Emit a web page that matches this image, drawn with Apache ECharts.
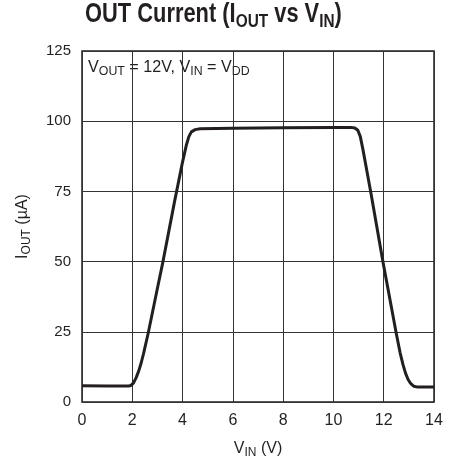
<!DOCTYPE html>
<html>
<head>
<meta charset="utf-8">
<script src="https://cdn.jsdelivr.net/npm/echarts@6/dist/echarts.min.js"></script>
<style>html,body{margin:0;padding:0;background:#fff}#c{width:453px;height:460px}</style>
</head>
<body>
<div id="c"></div>
<script>
var vin = [0, 1, 1.85, 1.95, 2.05, 2.15, 2.25, 2.35, 2.45, 2.63, 3.0, 3.22, 3.69, 4.0, 4.15, 4.25, 4.35, 4.5, 4.7, 6, 8, 10, 10.7, 10.85, 10.97, 11.07, 11.18, 11.5, 11.97, 12.5, 12.65, 12.77, 12.87, 12.97, 13.07, 13.2, 13.35, 14];
var iout = [5.8, 5.7, 5.7, 5.9, 6.8, 8.6, 10.9, 13.8, 17.3, 24.4, 40.5, 50.0, 71.8, 85.5, 91.5, 94.5, 96.2, 97.0, 97.3, 97.5, 97.7, 97.8, 97.8, 97.6, 96.8, 94.5, 89.6, 74, 49.9, 24.4, 17.6, 13.2, 10.2, 8.0, 6.6, 5.6, 5.3, 5.3];
var xTicks = [0, 2, 4, 6, 8, 10, 12, 14];
var yTicks = [0, 25, 50, 75, 100, 125];

var FONT = '"Liberation Sans", Arial, sans-serif';
var INK = '#231f20';
var chart = echarts.init(document.getElementById('c'), null, {renderer: 'canvas'});
var pts = vin.map(function (v, i) { return [v, iout[i]]; });
chart.setOption({
  animation: false,
  grid: {left: 82, right: 19, top: 51, bottom: 58, show: true, borderColor: INK, borderWidth: 1.5, backgroundColor: 'transparent', containLabel: false, outerBoundsMode: 'none'},
  xAxis: {
    type: 'value', min: 0, max: 14, interval: 2,
    axisLine: {show: false}, axisTick: {show: false},
    splitLine: {show: true, lineStyle: {color: '#333', width: 1}},
    axisLabel: {fontFamily: FONT, fontSize: 16, color: INK, margin: 11, formatter: function (v) { return xTicks.indexOf(v) >= 0 ? String(v) : ''; }},
    name: '{m|V}{s|IN}{m| (V)}', nameLocation: 'middle', nameGap: 37,
    nameTextStyle: {rich: {
      m: {fontFamily: FONT, fontSize: 16, color: INK, lineHeight: 20, verticalAlign: 'middle'},
      s: {fontFamily: FONT, fontSize: 12, color: INK, lineHeight: 20, verticalAlign: 'bottom'}
    }}
  },
  yAxis: {
    type: 'value', min: 0, max: 125, interval: 25,
    axisLine: {show: false}, axisTick: {show: false},
    splitLine: {show: true, lineStyle: {color: '#333', width: 1}},
    axisLabel: {fontFamily: FONT, fontSize: 15, color: INK, margin: 11, formatter: function (v) { return yTicks.indexOf(v) >= 0 ? String(v) : ''; }},
    name: '{m|I}{s|OUT}{m| (µA)}', nameLocation: 'middle', nameGap: 49,
    nameTextStyle: {rich: {
      m: {fontFamily: FONT, fontSize: 16, color: INK, lineHeight: 20, verticalAlign: 'middle'},
      s: {fontFamily: FONT, fontSize: 12, color: INK, lineHeight: 20, verticalAlign: 'bottom'}
    }}
  },
  graphic: [{
    type: 'text', x: 85, y: -1, scaleX: 0.81,
    style: {
      text: '{m|OUT Current (I}{s|OUT}{m| vs V}{s|IN}{m|)}',
      rich: {
        m: {fontFamily: FONT, fontWeight: 'bold', fontSize: 27, fill: INK, lineHeight: 32, verticalAlign: 'middle'},
        s: {fontFamily: FONT, fontWeight: 'bold', fontSize: 19, fill: INK, lineHeight: 32, verticalAlign: 'bottom'}
      }
    }
  }, {
    type: 'text', x: 88, y: 56, scaleX: 0.95,
    style: {
      text: '{m|V}{s|OUT}{m| = 12V, V}{s|IN}{m| = V}{s|DD}',
      rich: {
        m: {fontFamily: FONT, fontSize: 17, fill: INK, lineHeight: 22, verticalAlign: 'middle'},
        s: {fontFamily: FONT, fontSize: 13, fill: INK, lineHeight: 22, verticalAlign: 'bottom'}
      }
    }
  }],
  series: [{
    type: 'line', data: pts, showSymbol: false, smooth: false,
    lineStyle: {color: INK, width: 3, join: 'round'}
  }]
});
</script>
</body>
</html>
